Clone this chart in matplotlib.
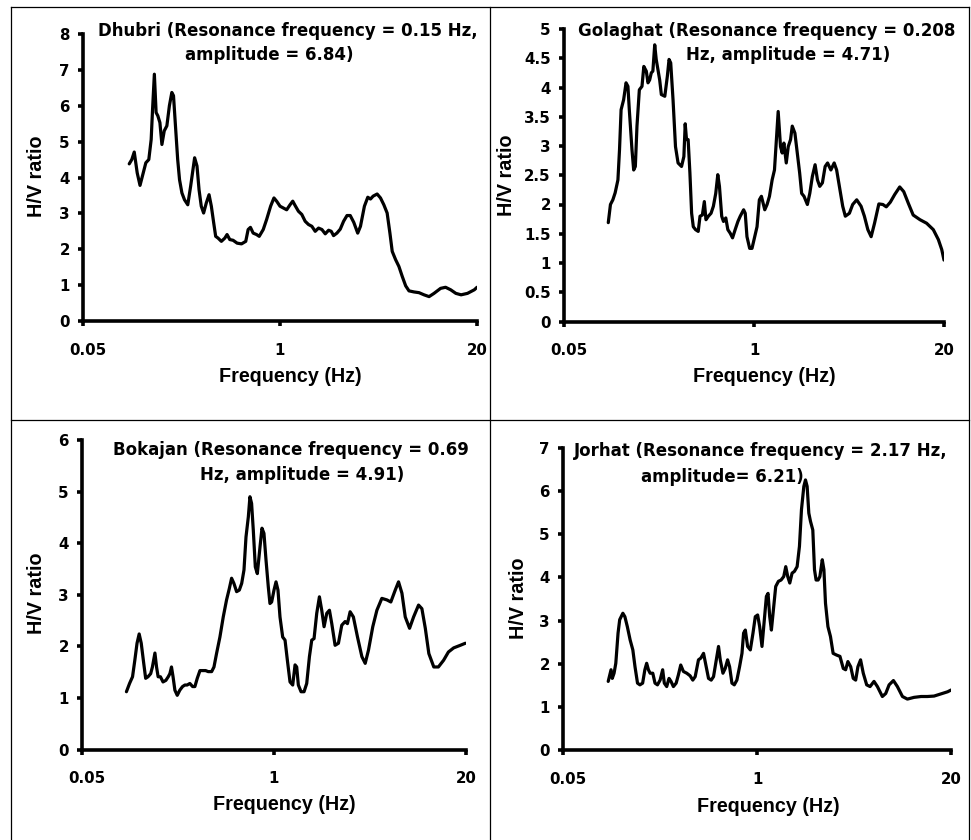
import matplotlib
matplotlib.use("Agg")
import matplotlib.pyplot as plt
from matplotlib.lines import Line2D
from matplotlib.ticker import FixedLocator, NullLocator, FixedFormatter
import matplotlib.transforms as mtransforms

plt.rcParams['font.family'] = ['Liberation Sans', 'DejaVu Sans']
plt.rcParams['font.weight'] = 'bold'

# ---------------- data ----------------
x_ticks = [0.05, 1, 20]
x_tick_labels = ["0.05", "1", "20"]

dhubri_f = [0.101, 0.105, 0.109, 0.114, 0.119, 0.125, 0.130, 0.136, 0.141, 0.144,
            0.148, 0.152, 0.156, 0.161, 0.166, 0.172, 0.179, 0.186, 0.193, 0.198,
            0.204, 0.211, 0.217, 0.225, 0.234, 0.246, 0.257, 0.273, 0.283, 0.292,
            0.302, 0.313, 0.326, 0.340, 0.352, 0.365, 0.376, 0.390, 0.410, 0.432,
            0.447, 0.466, 0.490, 0.521, 0.557, 0.594, 0.616, 0.638, 0.665, 0.700,
            0.729, 0.775, 0.816, 0.867, 0.912, 0.950, 1.0, 1.052, 1.107, 1.165,
            1.214, 1.258, 1.323, 1.393, 1.466, 1.542, 1.623, 1.708, 1.797, 1.891,
            1.990, 2.094, 2.180, 2.258, 2.376, 2.50, 2.63, 2.77, 2.91, 3.07,
            3.26, 3.40, 3.61, 3.80, 3.96, 4.12, 4.38, 4.61, 4.85, 5.10,
            5.32, 5.51, 5.80, 6.10, 6.42, 6.76, 7.11, 7.67, 8.28, 8.93,
            9.65, 10.4, 11.5, 12.4, 13.4, 14.5, 15.7, 17.3, 19.2, 20.0]
dhubri_hv = [4.38, 4.50, 4.71, 4.13, 3.78, 4.13, 4.41, 4.50, 5.06, 5.90,
             6.88, 5.81, 5.72, 5.53, 4.92, 5.30, 5.44, 6.00, 6.37, 6.28,
             5.44, 4.50, 3.94, 3.57, 3.38, 3.24, 3.76, 4.55, 4.32, 3.66,
             3.20, 3.01, 3.29, 3.52, 3.20, 2.73, 2.36, 2.31, 2.22, 2.31,
             2.41, 2.27, 2.25, 2.17, 2.15, 2.22, 2.55, 2.61, 2.45, 2.41,
             2.36, 2.55, 2.83, 3.20, 3.43, 3.34, 3.20, 3.15, 3.10, 3.24,
             3.34, 3.22, 3.06, 2.97, 2.78, 2.69, 2.64, 2.50, 2.59, 2.55,
             2.43, 2.53, 2.50, 2.38, 2.45, 2.56, 2.78, 2.94, 2.94, 2.75,
             2.45, 2.64, 3.20, 3.45, 3.40, 3.48, 3.54, 3.43, 3.24, 3.01,
             2.45, 1.94, 1.71, 1.52, 1.24, 0.98, 0.84, 0.81, 0.79, 0.73,
             0.68, 0.77, 0.91, 0.94, 0.87, 0.77, 0.73, 0.77, 0.87, 0.94]

golaghat_f = [0.1005, 0.104, 0.108, 0.112, 0.117, 0.120, 0.123, 0.128, 0.133, 0.137,
              0.140, 0.146, 0.150, 0.154, 0.158, 0.164, 0.171, 0.176, 0.183, 0.188,
              0.193, 0.198, 0.203, 0.209, 0.214, 0.220, 0.226, 0.232, 0.245, 0.255,
              0.262, 0.269, 0.279, 0.290, 0.302, 0.319, 0.331, 0.338, 0.345, 0.354,
              0.364, 0.374, 0.384, 0.398, 0.415, 0.427, 0.443, 0.457, 0.469, 0.487,
              0.508, 0.527, 0.547, 0.565, 0.580, 0.601, 0.618, 0.641, 0.662, 0.687,
              0.713, 0.743, 0.776, 0.805, 0.849, 0.871, 0.895, 0.934, 0.969, 1.011,
              1.049, 1.088, 1.124, 1.185, 1.229, 1.276, 1.331, 1.381, 1.418, 1.464,
              1.519, 1.560, 1.602, 1.663, 1.716, 1.780, 1.828, 1.906, 1.980, 2.054,
              2.120, 2.20, 2.32, 2.41, 2.51, 2.62, 2.72, 2.82, 2.94, 3.07,
              3.19, 3.36, 3.54, 3.68, 3.84, 4.05, 4.22, 4.50, 4.74, 5.05,
              5.41, 5.70, 6.02, 6.34, 6.69, 7.16, 7.63, 8.05, 8.58, 9.19,
              9.95, 10.6, 11.4, 12.3, 13.7, 15.2, 16.9, 18.3, 19.3, 20.0]
golaghat_hv = [1.69, 2.00, 2.08, 2.20, 2.42, 2.94, 3.62, 3.79, 4.08, 4.02,
               3.62, 2.94, 2.59, 2.65, 3.34, 3.96, 4.02, 4.36, 4.28, 4.08,
               4.13, 4.25, 4.28, 4.73, 4.48, 4.30, 4.13, 3.88, 3.85, 4.19,
               4.48, 4.42, 3.79, 2.99, 2.71, 2.65, 2.82, 3.38, 3.11, 3.11,
               2.54, 1.85, 1.62, 1.57, 1.54, 1.80, 1.82, 2.05, 1.74, 1.80,
               1.85, 1.97, 2.19, 2.51, 2.31, 1.80, 1.71, 1.77, 1.57, 1.51,
               1.43, 1.57, 1.71, 1.80, 1.91, 1.85, 1.45, 1.25, 1.25, 1.45,
               1.62, 2.08, 2.14, 1.91, 2.00, 2.14, 2.42, 2.59, 3.05, 3.59,
               2.99, 2.88, 3.05, 2.71, 2.99, 3.11, 3.34, 3.22, 2.88, 2.54,
               2.19, 2.14, 2.00, 2.19, 2.48, 2.68, 2.42, 2.31, 2.37, 2.65,
               2.71, 2.59, 2.71, 2.59, 2.31, 1.97, 1.80, 1.85, 2.00, 2.08,
               1.97, 1.80, 1.57, 1.45, 1.68, 2.01, 2.00, 1.96, 2.04, 2.17,
               2.30, 2.22, 2.02, 1.82, 1.74, 1.68, 1.57, 1.40, 1.23, 1.05]

bokajan_f = [0.100, 0.105, 0.110, 0.114, 0.118, 0.122, 0.126, 0.131, 0.135, 0.140,
             0.146, 0.150, 0.156, 0.160, 0.164, 0.170, 0.177, 0.185, 0.192, 0.197,
             0.202, 0.207, 0.213, 0.221, 0.230, 0.240, 0.249, 0.258, 0.269, 0.281,
             0.291, 0.302, 0.315, 0.328, 0.344, 0.358, 0.378, 0.392, 0.408, 0.430,
             0.453, 0.477, 0.498, 0.516, 0.535, 0.558, 0.582, 0.604, 0.626, 0.646,
             0.670, 0.687, 0.705, 0.724, 0.747, 0.771, 0.804, 0.829, 0.855, 0.883,
             0.915, 0.939, 0.964, 1.0, 1.032, 1.064, 1.098, 1.145, 1.188, 1.232,
             1.284, 1.339, 1.389, 1.425, 1.462, 1.525, 1.598, 1.666, 1.738, 1.802,
             1.868, 1.948, 2.031, 2.106, 2.184, 2.278, 2.375, 2.463, 2.594, 2.733,
             2.879, 3.033, 3.145, 3.28, 3.45, 3.68, 3.94, 4.15, 4.37, 4.67,
             4.98, 5.38, 5.82, 6.19, 6.63, 6.98, 7.36, 7.75, 8.29, 8.83,
             9.54, 10.05, 10.6, 11.2, 12.1, 13.0, 14.1, 15.2, 16.5, 18.3, 19.8]
bokajan_hv = [1.12, 1.28, 1.41, 1.73, 2.06, 2.24, 2.06, 1.67, 1.38, 1.41,
              1.47, 1.60, 1.87, 1.60, 1.41, 1.41, 1.31, 1.34, 1.41, 1.47,
              1.60, 1.41, 1.15, 1.05, 1.15, 1.22, 1.25, 1.25, 1.28, 1.22,
              1.22, 1.38, 1.53, 1.53, 1.53, 1.51, 1.51, 1.60, 1.86, 2.18,
              2.57, 2.90, 3.12, 3.32, 3.22, 3.06, 3.09, 3.22, 3.48, 4.12,
              4.51, 4.90, 4.77, 4.25, 3.54, 3.41, 3.93, 4.29, 4.19, 3.67,
              3.15, 2.83, 2.86, 3.09, 3.25, 3.09, 2.57, 2.18, 2.12, 1.73,
              1.31, 1.25, 1.64, 1.60, 1.25, 1.12, 1.12, 1.28, 1.80, 2.12,
              2.15, 2.64, 2.96, 2.70, 2.38, 2.64, 2.70, 2.44, 2.02, 2.06,
              2.41, 2.48, 2.44, 2.67, 2.57, 2.18, 1.80, 1.67, 1.93, 2.38,
              2.70, 2.93, 2.90, 2.86, 3.09, 3.25, 3.03, 2.57, 2.35, 2.57,
              2.80, 2.73, 2.35, 1.86, 1.60, 1.60, 1.73, 1.89, 1.97, 2.02, 2.06]

jorhat_f = [0.1005, 0.103, 0.105, 0.107, 0.110, 0.113, 0.117, 0.120, 0.126, 0.130,
            0.135, 0.141, 0.147, 0.152, 0.158, 0.164, 0.171, 0.177, 0.182, 0.187,
            0.192, 0.200, 0.207, 0.215, 0.224, 0.233, 0.239, 0.248, 0.257, 0.265,
            0.275, 0.287, 0.297, 0.308, 0.321, 0.338, 0.356, 0.371, 0.385, 0.405,
            0.420, 0.438, 0.456, 0.473, 0.493, 0.511, 0.533, 0.552, 0.567, 0.591,
            0.612, 0.635, 0.655, 0.679, 0.704, 0.733, 0.764, 0.793, 0.813, 0.835,
            0.865, 0.902, 0.940, 0.974, 1.010, 1.042, 1.080, 1.109, 1.156, 1.186,
            1.217, 1.249, 1.294, 1.335, 1.392, 1.450, 1.511, 1.559, 1.607, 1.659,
            1.719, 1.782, 1.858, 1.926, 1.987, 2.061, 2.114, 2.169, 2.226, 2.284,
            2.367, 2.43, 2.49, 2.57, 2.64, 2.74, 2.81, 2.88, 2.99, 3.11,
            3.24, 3.42, 3.60, 3.79, 3.93, 4.07, 4.25, 4.42, 4.59, 4.75,
            4.95, 5.16, 5.44, 5.73, 6.09, 6.42, 6.93, 7.30, 7.69, 8.22,
            8.74, 9.45, 10.2, 11.3, 12.6, 13.9, 15.4, 17.1, 19.0, 20.0]
jorhat_hv = [1.59, 1.74, 1.86, 1.66, 1.78, 2.01, 2.71, 3.02, 3.17, 3.09,
             2.86, 2.55, 2.32, 1.93, 1.55, 1.51, 1.55, 1.86, 2.01, 1.86,
             1.78, 1.78, 1.55, 1.51, 1.62, 1.86, 1.55, 1.47, 1.66, 1.59,
             1.47, 1.55, 1.74, 1.97, 1.82, 1.78, 1.72, 1.62, 1.70, 2.09,
             2.13, 2.24, 1.93, 1.66, 1.62, 1.70, 2.09, 2.40, 2.09, 1.78,
             1.89, 2.09, 1.93, 1.55, 1.51, 1.62, 1.93, 2.24, 2.71, 2.78,
             2.40, 2.32, 2.71, 3.09, 3.13, 2.86, 2.40, 2.86, 3.56, 3.63,
             3.09, 2.78, 3.33, 3.79, 3.91, 3.94, 4.02, 4.25, 4.02, 3.87,
             4.10, 4.14, 4.25, 4.72, 5.57, 6.11, 6.26, 6.11, 5.49, 5.30,
             5.10, 4.18, 3.94, 3.94, 4.02, 4.41, 4.18, 3.40, 2.86, 2.63,
             2.24, 2.20, 2.17, 1.89, 1.86, 2.05, 1.93, 1.66, 1.62, 1.93,
             2.09, 1.78, 1.51, 1.47, 1.59, 1.47, 1.24, 1.31, 1.51, 1.61,
             1.47, 1.24, 1.18, 1.22, 1.24, 1.24, 1.25, 1.30, 1.35, 1.39]

dhubri_yticks = [0, 1, 2, 3, 4, 5, 6, 7, 8]
golaghat_yticks = [0, 0.5, 1, 1.5, 2, 2.5, 3, 3.5, 4, 4.5, 5]
golaghat_ylabels = ["0", "0.5", "1", "1.5", "2", "2.5", "3", "3.5", "4", "4.5", "5"]
bokajan_yticks = [0, 1, 2, 3, 4, 5, 6]
jorhat_yticks = [0, 1, 2, 3, 4, 5, 6, 7]

# ---------------- figure ----------------
W, H = 971, 840
fig = plt.figure(figsize=(W / 100, H / 100), dpi=100)

TICK_FONT = ['DejaVu Sans']
TITLE_FONT = ['DejaVu Sans']
LABEL_FONT = ['Liberation Sans', 'DejaVu Sans']


def fx(px):
    return px / W


def fy(py):
    return 1 - py / H


# table borders
for (x0, y0, x1, y1) in [(10.5, 7, 969, 7), (10.5, 420, 969, 420),
                         (10.5, 7, 10.5, 840), (489.5, 7, 489.5, 840),
                         (969, 7, 969, 840)]:
    fig.add_artist(Line2D([fx(x0), fx(x1)], [fy(y0), fy(y1)], color='black',
                          lw=0.9, transform=fig.transFigure))

panels = [
    dict(f=dhubri_f, hv=dhubri_hv, yt=dhubri_yticks, yl=[str(v) for v in dhubri_yticks],
         box=(83, 34, 477, 321), ymax=8,
         title=[("Dhubri (Resonance frequency = 0.15 Hz,", 288, 31),
                ("amplitude = 6.84)", 269, 55)],
         xlab=(290, 377), ylab=(37, 176)),
    dict(f=golaghat_f, hv=golaghat_hv, yt=golaghat_yticks, yl=golaghat_ylabels,
         box=(564, 29, 944, 321.5), ymax=5,
         title=[("Golaghat (Resonance frequency = 0.208", 767, 31),
                ("Hz, amplitude = 4.71)", 788, 55)],
         xlab=(764, 377), ylab=(506, 175)),
    dict(f=bokajan_f, hv=bokajan_hv, yt=bokajan_yticks, yl=[str(v) for v in bokajan_yticks],
         box=(82, 440, 466, 749.5), ymax=6,
         title=[("Bokajan (Resonance frequency = 0.69", 291, 450),
                ("Hz, amplitude = 4.91)", 302, 475)],
         xlab=(284, 805), ylab=(37, 593)),
    dict(f=jorhat_f, hv=jorhat_hv, yt=jorhat_yticks, yl=[str(v) for v in jorhat_yticks],
         box=(563, 448, 951, 750), ymax=7,
         title=[("Jorhat (Resonance frequency = 2.17 Hz,", 761, 451),
                ("amplitude= 6.21)", 722, 477)],
         xlab=(768, 807), ylab=(518, 598)),
]

for p in panels:
    x0, ytop, x1, ybot = p['box']
    ax = fig.add_axes([fx(x0), fy(ybot), fx(x1) - fx(x0), (ybot - ytop) / H])
    ax.plot(p['f'], p['hv'], color='black', lw=2.3, solid_joinstyle='round',
            solid_capstyle='round', clip_on=True)
    ax.set_xscale('log')
    ax.set_xlim(0.05, 20)
    ax.set_ylim(0, p['ymax'])
    ax.xaxis.set_major_locator(FixedLocator(x_ticks))
    ax.xaxis.set_major_formatter(FixedFormatter(x_tick_labels))
    ax.xaxis.set_minor_locator(NullLocator())
    ax.yaxis.set_major_locator(FixedLocator(p['yt']))
    ax.yaxis.set_major_formatter(FixedFormatter(p['yl']))
    ax.yaxis.set_minor_locator(NullLocator())
    for s in ['top', 'right']:
        ax.spines[s].set_visible(False)
    for s in ['left', 'bottom']:
        ax.spines[s].set_linewidth(2.6)
        ax.spines[s].set_capstyle('projecting')
    ax.tick_params(axis='both', which='major', direction='out', length=3.5,
                   width=2.6, labelsize=10.8)
    ax.tick_params(axis='y', pad=6)
    ax.tick_params(axis='x', pad=12)
    for lab in ax.get_xticklabels() + ax.get_yticklabels():
        lab.set_fontweight('bold')
        lab.set_family(TICK_FONT)
    # shift first x label slightly right (as in the reference)
    first = ax.get_xticklabels()[0]
    first.set_transform(first.get_transform() +
                        mtransforms.ScaledTranslation(5 / 100, 0, fig.dpi_scale_trans))
    ax.patch.set_visible(False)

    for (txt, cx, cy) in p['title']:
        fig.text(fx(cx), fy(cy), txt, ha='center', va='center', fontsize=12,
                 fontweight='bold', family=TITLE_FONT)
    fig.text(fx(p['xlab'][0]), fy(p['xlab'][1]), "Frequency (Hz)", ha='center',
             va='center', fontsize=14.2, fontweight='bold', family=LABEL_FONT)
    fig.text(fx(p['ylab'][0]), fy(p['ylab'][1]), "H/V ratio", ha='center',
             va='center', rotation=90, fontsize=14.2, fontweight='bold',
             family=LABEL_FONT)

fig.savefig("out.png", dpi=100, facecolor='white')
